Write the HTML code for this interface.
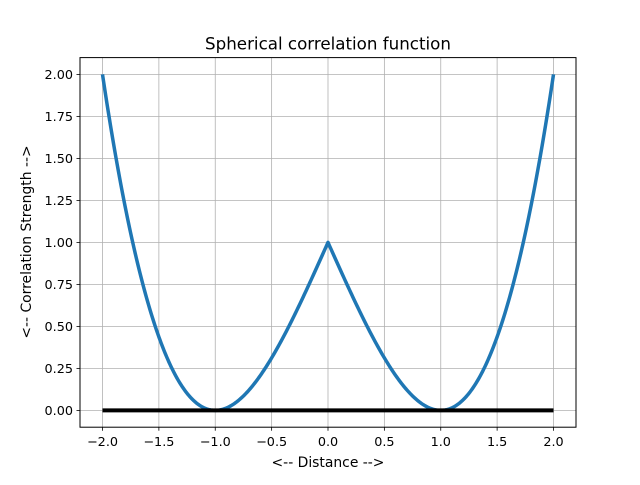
<!DOCTYPE html>
<html><head><meta charset="utf-8"><style>
body{margin:0;background:#fff;}
svg text{font-family:"DejaVu Sans","Liberation Sans",sans-serif;}
</style></head><body>
<svg id="s" width="640" height="480" xmlns="http://www.w3.org/2000/svg">
<rect width="640" height="480" fill="#fff"/>
<g id="grid"></g>
<path id="curve" fill="none" stroke="#1f77b4" stroke-width="3.5" stroke-linejoin="round"/>
<line x1="102.5" y1="410.4" x2="553.5" y2="410.4" stroke="#000" stroke-width="4"/>
<rect x="80" y="57.6" width="496" height="369.6" fill="none" stroke="#000" stroke-width="1"/>
<g id="ticks" font-size="12.8" fill="#000"></g>
<text x="328" y="49.5" font-size="16.7" text-anchor="middle">Spherical correlation function</text>
<text x="328" y="467" font-size="13.9" text-anchor="middle">&lt;-- Distance --&gt;</text>
<text transform="translate(31,242) rotate(-90)" font-size="13.9" text-anchor="middle">&lt;-- Correlation Strength --&gt;</text>
</svg>
<script>
const X=v=>328+v*112.75, Y=v=>410.4-v*168;
let g='',t='';
for(let i=-4;i<=4;i++){const v=i/2,x=X(v);
g+=`<line x1="${x}" y1="57.6" x2="${x}" y2="427.2" stroke="#b0b0b0" stroke-width="0.8"/>`;
t+=`<line x1="${x}" y1="427.2" x2="${x}" y2="430.7" stroke="#000" stroke-width="0.8"/>`;
t+=`<text x="${x}" y="446" text-anchor="middle">${v.toFixed(1).replace('-','\u2212')}</text>`;}
for(let i=0;i<=8;i++){const v=i/4,y=Y(v);
g+=`<line x1="80" y1="${y}" x2="576" y2="${y}" stroke="#b0b0b0" stroke-width="0.8"/>`;
t+=`<line x1="76.5" y1="${y}" x2="80" y2="${y}" stroke="#000" stroke-width="0.8"/>`;
t+=`<text x="73" y="${y+4.6}" text-anchor="end">${v.toFixed(2)}</text>`;}
document.getElementById('grid').innerHTML=g;
document.getElementById('ticks').innerHTML=t;
let d='';
for(let i=0;i<=400;i++){const h=-2+i*0.01,a=Math.abs(h),f=1-1.5*a+0.5*a*a*a;
d+=(i?'L':'M')+X(h).toFixed(2)+','+Y(f).toFixed(2);}
document.getElementById('curve').setAttribute('d',d);
</script>
</body></html>
